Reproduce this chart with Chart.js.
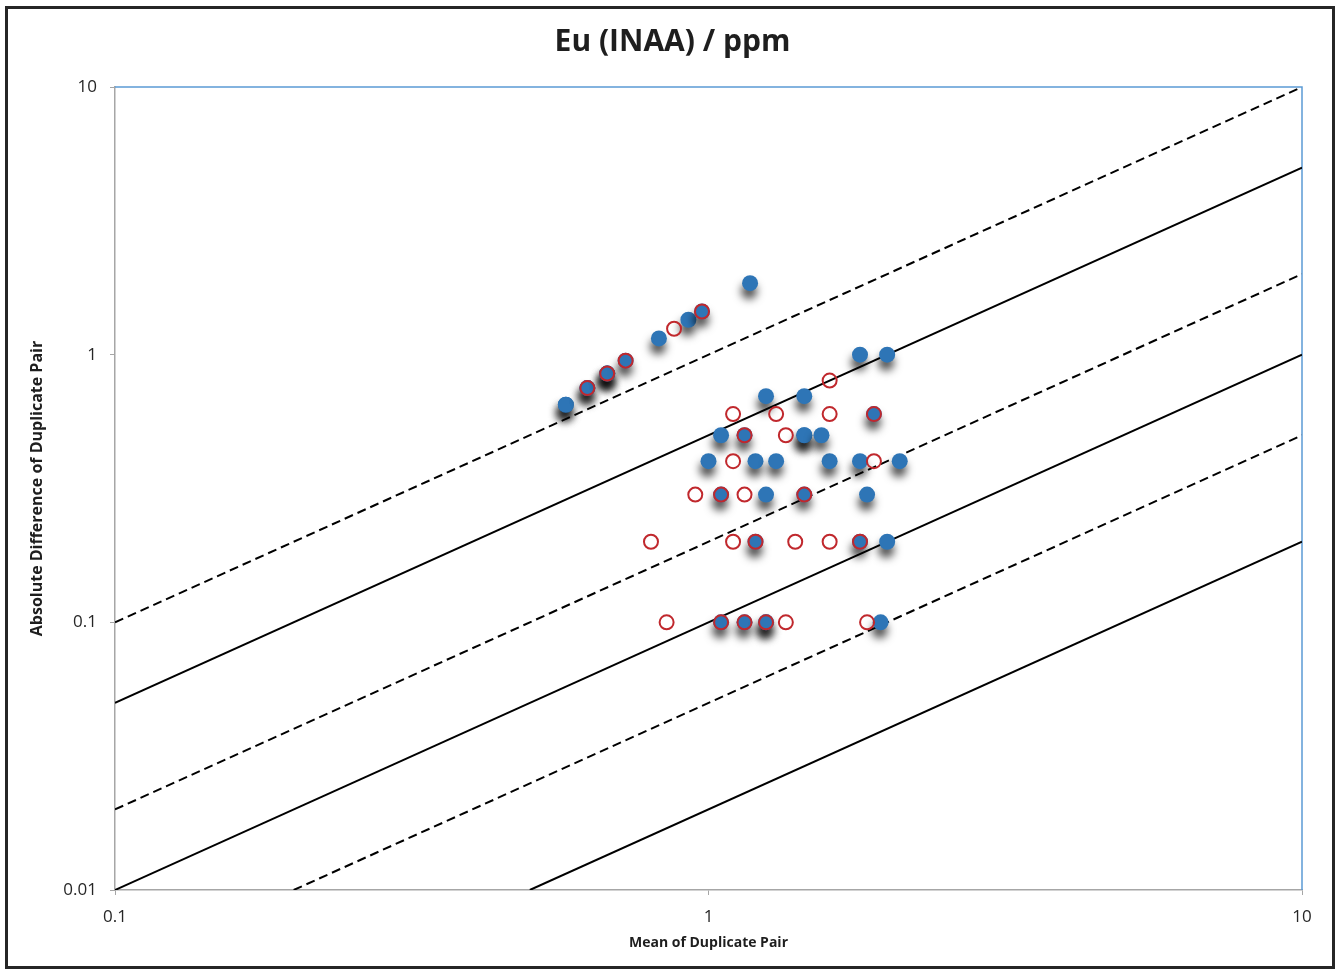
<!DOCTYPE html>
<html>
<head>
<meta charset="utf-8">
<title>Eu (INAA) / ppm</title>
<script src="https://cdn.jsdelivr.net/npm/chart.js@4.4.0/dist/chart.umd.min.js"></script>
<style>
  html, body { margin: 0; padding: 0; background: #fff; }
  #wrap { position: relative; width: 1338px; height: 972px; overflow: hidden; }
  #myChart { position: absolute; left: 0; top: 0; }
  #frame { position: absolute; left: 5px; top: 6px; width: 1324px; height: 957px; border: 3px solid #262626; pointer-events: none; }
</style>
</head>
<body>
<div id="wrap">
  <canvas id="myChart" width="1338" height="972"></canvas>
  <div id="frame"></div>
</div>
<script>
// ---------- datos ----------
// circulos rojos abiertos
const redX = [0.85, 1.05, 1.15, 1.25, 1.35, 1.85,
              0.8, 1.1, 1.2, 1.4, 1.6, 1.8,
              0.95, 1.05, 1.15, 1.45,
              1.1, 1.9,
              1.15, 1.35,
              1.1, 1.3, 1.6, 1.9,
              1.6,
              0.625, 0.675, 0.725, 0.875, 0.975];
const redY = [0.1, 0.1, 0.1, 0.1, 0.1, 0.1,
              0.2, 0.2, 0.2, 0.2, 0.2, 0.2,
              0.3, 0.3, 0.3, 0.3,
              0.4, 0.4,
              0.5, 0.5,
              0.6, 0.6, 0.6, 0.6,
              0.8,
              0.75, 0.85, 0.95, 1.25, 1.45];

// puntos azules rellenos (los repetidos dan la sombra negra)
const blueX = [1.05, 1.15, 1.25, 1.25, 1.95,
               1.2, 1.8, 2.0,
               1.05, 1.25, 1.45, 1.85,
               1.0, 1.2, 1.3, 1.6, 1.8, 2.1,
               1.05, 1.15, 1.45, 1.45, 1.55,
               1.9,
               1.25, 1.45,
               1.8, 2.0,
               0.575, 0.575, 0.625, 0.625, 0.675, 0.675, 0.675, 0.725, 0.825, 0.925, 0.975, 1.175];
const blueY = [0.1, 0.1, 0.1, 0.1, 0.1,
               0.2, 0.2, 0.2,
               0.3, 0.3, 0.3, 0.3,
               0.4, 0.4, 0.4, 0.4, 0.4, 0.4,
               0.5, 0.5, 0.5, 0.5, 0.5,
               0.6,
               0.7, 0.7,
               1.0, 1.0,
               0.65, 0.65, 0.75, 0.75, 0.85, 0.85, 0.85, 0.95, 1.15, 1.35, 1.45, 1.85];

// lineas de referencia (extremos)
const lineDashed100 = [[0.1, 0.1], [10, 10]];
const lineSolid50   = [[0.1, 0.05], [10, 5]];
const lineDashed20  = [[0.1, 0.02], [10, 2]];
const lineSolid10   = [[0.1, 0.01], [10, 1]];
const lineDashed5   = [[0.2, 0.01], [10, 0.5]];
const lineSolid2    = [[0.5, 0.01], [10, 0.2]];

// etiquetas de los ejes
const xTicks = [0.1, 1, 10];
const yTicks = [0.01, 0.1, 1, 10];

// ---------- helpers ----------
function toPoints(xs, ys) {
  return xs.map((x, i) => ({ x: x, y: ys[i] }));
}
function pairToPoints(p) {
  return p.map((v) => ({ x: v[0], y: v[1] }));
}
function refLine(p, dashed) {
  return {
    data: pairToPoints(p),
    showLine: true,
    pointRadius: 0,
    borderColor: '#000',
    borderWidth: 2,
    borderDash: dashed ? [9, 5] : [],
    order: 2,
  };
}

// sombra de los puntos azules
const sombra = {
  id: 'sombra',
  beforeDatasetDraw(chart, args) {
    if (args.index !== 0) return;
    const ctx = chart.ctx;
    ctx.save();
    ctx.shadowColor = 'rgba(0,0,0,0.7)';
    ctx.shadowBlur = 8;
    ctx.shadowOffsetX = -1;
    ctx.shadowOffsetY = 8;
  },
  afterDatasetDraw(chart, args) {
    if (args.index !== 0) return;
    chart.ctx.restore();
  }
};

// borde azul arriba y a la derecha
const bordeAzul = {
  id: 'bordeAzul',
  beforeDatasetsDraw(chart) {
    const { ctx, chartArea: a } = chart;
    ctx.save();
    ctx.strokeStyle = '#5b9bd5';
    ctx.lineWidth = 1.5;
    ctx.beginPath();
    ctx.moveTo(a.left, a.top);
    ctx.lineTo(a.right, a.top);
    ctx.lineTo(a.right, a.bottom);
    ctx.stroke();
    ctx.restore();
  }
};

const tickFont = { family: 'Open Sans', size: 17 };
const grey = '#a6a6a6';

const ctx = document.getElementById('myChart').getContext('2d');
const myChart = new Chart(ctx, {
  type: 'scatter',
  data: {
    datasets: [
      {
        data: toPoints(blueX, blueY),
        backgroundColor: '#2e75b6',
        borderWidth: 0,
        pointRadius: 8,
        order: 1,
      },
      {
        data: toPoints(redX, redY),
        backgroundColor: 'rgba(0,0,0,0)',
        borderColor: '#c0282d',
        borderWidth: 2,
        pointRadius: 7,
        order: 0,
      },
      refLine(lineDashed100, true),
      refLine(lineSolid50, false),
      refLine(lineDashed20, true),
      refLine(lineSolid10, false),
      refLine(lineDashed5, true),
      refLine(lineSolid2, false),
    ],
  },
  options: {
    responsive: false,
    animation: false,
    events: [],
    layout: { padding: { left: 43, right: 36, top: 10, bottom: 17 } },
    plugins: {
      legend: { display: false },
      tooltip: { enabled: false },
      title: {
        display: true,
        text: 'Eu (INAA) / ppm',
        font: { family: 'Open Sans', size: 30, weight: 'bold' },
        color: '#1e1e1e',
        padding: { top: 14, bottom: 27 },
      },
    },
    scales: {
      x: {
        type: 'logarithmic',
        min: 0.1,
        max: 10,
        afterBuildTicks: (s) => { s.ticks = xTicks.map((v) => ({ value: v })); },
        afterFit: (s) => { s.height = 65; },
        grid: { display: true, drawOnChartArea: false, drawTicks: true, tickLength: 5, color: grey },
        border: { color: grey, width: 1.5 },
        ticks: { padding: 12, font: tickFont, color: '#262626', autoSkip: false, maxRotation: 0, callback: (v) => v.toString() },
        title: { display: true, text: 'Mean of Duplicate Pair', font: { family: 'Open Sans', size: 14, weight: 'bold' }, color: '#1e1e1e', padding: { top: 4, bottom: 4 } },
      },
      y: {
        type: 'logarithmic',
        min: 0.01,
        max: 10,
        afterBuildTicks: (s) => { s.ticks = yTicks.map((v) => ({ value: v })); },
        afterFit: (s) => { s.width = 72; },
        grid: { display: true, drawOnChartArea: false, drawTicks: true, tickLength: 5, color: grey },
        border: { color: grey, width: 1.5 },
        ticks: { padding: 13, font: tickFont, color: '#262626', autoSkip: false, callback: (v) => v.toString() },
        title: { display: true, text: 'Absolute Difference of Duplicate Pair', font: { family: 'Open Sans', size: 16, weight: 'bold' }, color: '#1e1e1e', padding: { top: -15.6, bottom: 0 } },
      },
    },
  },
  plugins: [sombra, bordeAzul],
});
</script>
</body>
</html>
